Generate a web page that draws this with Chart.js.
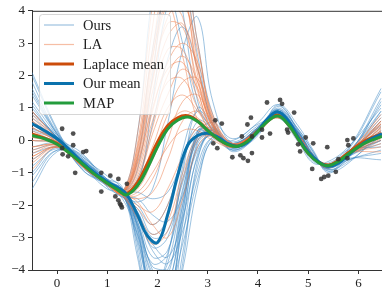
<!DOCTYPE html>
<html>
<head>
<meta charset="utf-8">
<script src="https://cdn.jsdelivr.net/npm/chart.js@4.4.1/dist/chart.umd.min.js"></script>
<style>
  html, body { margin: 0; padding: 0; background: #fff; }
  #wrap { width: 382px; height: 293px; }
</style>
</head>
<body>
<div id="wrap"><canvas id="chart"></canvas></div>
<script>
// x positions shared by the sample curves
const sampleX = [-0.5, 0, 0.5, 1, 1.3, 1.6, 1.9, 2.2, 2.5, 2.8, 3.1, 3.5, 4, 4.4, 4.8, 5.1, 5.4, 5.8, 6.45];

// "Ours" posterior samples
const oursSamples = [
  [0.9, 0.1, -0.6, -1.2, -1.55, -2.6, -4.2, -4.5, -2.0, 0.3, 0.35, -0.1, 0.4, 0.9, 0.25, -0.45, -0.8, -0.4, 0.5],
  [1.6, 0.2, -0.8, -1.4, -1.7, -2.8, -4.8, -5.0, -2.5, -0.1, 0.2, -0.2, 0.3, 0.85, 0.2, -0.5, -0.85, -0.5, 0.1],
  [-0.4, -0.2, -0.5, -1.2, -1.6, -2.2, -3.3, -3.0, -1.2, 0.2, 0.3, -0.15, 0.35, 0.9, 0.15, -0.55, -0.8, -0.35, 0.9],
  [0.4, 0.0, -0.7, -1.35, -1.65, -2.0, -2.6, -2.0, -0.5, 0.4, 0.25, -0.2, 0.4, 0.95, 0.2, -0.5, -0.85, -0.6, -0.3],
  [2.0, 0.3, -0.9, -1.3, -1.5, -3.2, -5.5, -5.8, -3.5, -0.8, 0.1, -0.2, 0.3, 0.8, 0.25, -0.45, -0.75, -0.3, 1.5],
  [-1.3, -0.3, -0.6, -1.25, -1.7, -2.4, -3.6, -3.4, -1.5, 0.0, 0.2, -0.1, 0.35, 0.9, 0.15, -0.5, -0.8, -0.45, 0.2],
  [0.7, 0.1, -0.7, -1.3, -1.55, -1.2, 0.5, 2.5, 3.5, 2.2, 0.6, -0.25, 0.3, 0.85, 0.2, -0.5, -0.8, -0.4, 0.3],
  [1.2, 0.15, -0.75, -1.3, -1.6, -0.9, 2.0, 5.0, 5.5, 3.0, 0.8, -0.2, 0.35, 0.9, 0.2, -0.5, -0.85, -0.45, 0.6],
  [0.2, -0.05, -0.65, -1.35, -1.6, -2.5, -3.9, -4.0, -2.0, -0.2, 0.15, -0.2, 0.3, 0.85, 0.25, -0.45, -0.8, -0.5, 0.0],
  [-0.8, -0.25, -0.55, -1.3, -1.65, -3.0, -5.0, -5.5, -3.0, -0.4, 0.2, -0.15, 0.4, 0.9, 0.2, -0.5, -0.85, -0.4, 1.1],
  [0.6, 0.05, -0.8, -1.4, -1.5, -2.2, -3.0, -2.8, -1.3, 0.1, 0.3, -0.1, 0.35, 0.8, 0.15, -0.55, -0.8, -0.55, -0.6],
  [1.4, 0.2, -0.6, -1.25, -1.6, -2.7, -4.4, -4.8, -2.6, 0.0, 0.25, -0.2, 0.3, 0.9, 0.2, -0.5, -0.8, -0.35, 0.8],
  [0.0, -0.1, -0.7, -1.3, -1.6, -1.6, -1.8, -1.6, -0.6, 0.3, 0.3, -0.15, 0.35, 0.85, 0.25, -0.45, -0.85, -0.5, 0.4],
  [-1.0, -0.2, -0.6, -1.35, -1.7, -2.6, -3.8, -3.5, -1.0, 1.0, 0.5, -0.2, 0.3, 0.9, 0.2, -0.5, -0.8, -0.4, 0.25],
  [0.5, 0.0, -0.75, -1.3, -1.6, -0.6, 2.8, 4.5, 3.0, 1.0, 0.4, -0.15, 0.35, 0.9, 0.15, -0.5, -0.8, -0.45, 1.3],
  [1.0, 0.1, -0.7, -1.3, -1.55, -2.9, -4.6, -4.2, -1.8, 0.1, 0.3, -0.2, 0.35, 0.85, 0.2, -0.5, -0.85, -0.4, 0.0],
  [-0.2, -0.1, -0.65, -1.3, -1.65, -2.3, -3.4, -3.8, -2.8, -1.0, 0.1, -0.15, 0.3, 0.9, 0.25, -0.5, -0.8, -0.5, 0.6],
  [0.3, 0.0, -0.7, -1.3, -1.6, -1.9, -1.5, 0.5, 2.8, 3.8, 1.2, -0.1, 0.35, 0.85, 0.2, -0.5, -0.85, -0.4, 0.2],
  [1.8, 0.25, -0.5, -1.1, -1.5, -2.5, -4.0, -4.6, -3.2, -1.2, 0.0, -0.3, 0.15, 1.1, 0.45, -0.3, -0.95, -0.7, 0.3],
  [-1.5, -0.35, -0.45, -1.45, -1.8, -2.9, -4.4, -3.8, -1.6, 0.2, 0.55, 0.05, 0.5, 0.7, -0.05, -0.7, -0.65, -0.2, 1.0],
  [0.8, 0.15, -0.85, -1.2, -1.45, -3.4, -6.0, -6.2, -3.8, -0.6, 0.35, -0.35, 0.2, 1.05, 0.35, -0.35, -1.0, -0.6, -0.4],
  [1.1, 0.1, -0.4, -1.3, -1.75, -2.1, -2.9, -2.4, -0.3, 0.9, 0.45, -0.3, 0.25, 0.75, 0.0, -0.65, -0.7, -0.25, 1.6],
  [-0.6, -0.2, -0.8, -1.5, -1.6, -2.6, -4.1, -4.4, -2.2, 0.3, 0.15, 0.0, 0.55, 1.1, 0.3, -0.4, -0.9, -0.65, 0.15],
  [0.35, 0.05, -0.6, -1.2, -1.6, -1.4, 1.2, 4.2, 4.8, 2.6, 0.5, -0.3, 0.2, 0.95, 0.35, -0.35, -0.95, -0.45, 0.7],
  [1.5, 0.2, -0.7, -1.25, -1.55, -3.6, -5.8, -5.2, -2.3, 0.2, 0.4, -0.05, 0.45, 0.8, 0.05, -0.6, -0.75, -0.3, -0.2],
  [-1.1, -0.3, -0.65, -1.4, -1.75, -1.8, -2.3, -2.5, -1.7, -0.3, 0.2, -0.25, 0.25, 1.0, 0.3, -0.45, -0.9, -0.55, 0.9],
  [0.1, -0.05, -0.75, -1.3, -1.6, -3.1, -4.6, -3.6, -0.8, 0.6, 0.35, -0.15, 0.4, 0.85, 0.1, -0.55, -0.85, -0.35, 0.45],
  [0.9, 0.1, -0.55, -1.35, -1.7, -2.4, -3.2, -3.6, -2.4, -0.5, 0.25, -0.2, 0.35, 0.95, 0.25, -0.45, -0.8, -0.5, 1.2],
  [-0.3, -0.15, -0.7, -1.25, -1.6, 0.2, 4.5, 6.5, 4.0, 1.2, 0.3, -0.2, 0.3, 0.85, 0.2, -0.5, -0.8, -0.4, 0.0],
  [2.1, 0.35, -0.9, -1.35, -1.55, -2.7, -5.2, -6.0, -4.0, -1.4, 0.05, -0.1, 0.35, 0.9, 0.2, -0.5, -0.85, -0.45, -0.1]
];

// "LA" (Laplace) samples
const laSamples = [
  [0.3, -0.1, -0.75, -1.35, -1.65, -1.0, 0.6, 1.8, 1.9, 1.0, 0.2, -0.2, 0.3, 0.75, 0.15, -0.5, -0.8, -0.4, 0.2],
  [0.8, 0.0, -0.8, -1.3, -1.6, -0.6, 1.8, 3.6, 3.5, 1.8, 0.4, -0.15, 0.3, 0.75, 0.1, -0.55, -0.8, -0.35, 0.5],
  [-0.5, -0.2, -0.7, -1.35, -1.7, -1.6, -1.0, -0.2, 0.3, 0.3, 0.0, -0.2, 0.3, 0.75, 0.15, -0.5, -0.75, -0.4, 0.0],
  [0.1, -0.1, -0.75, -1.3, -1.65, -0.3, 2.8, 5.0, 4.6, 2.2, 0.5, -0.2, 0.3, 0.7, 0.15, -0.5, -0.8, -0.45, 0.3],
  [-0.9, -0.2, -0.7, -1.4, -1.7, -2.0, -2.2, -1.5, -0.5, 0.2, 0.1, -0.15, 0.3, 0.75, 0.1, -0.5, -0.8, -0.4, 0.6],
  [0.6, 0.0, -0.8, -1.35, -1.6, -1.3, -0.2, 1.0, 1.4, 0.9, 0.2, -0.2, 0.25, 0.75, 0.15, -0.55, -0.8, -0.35, 0.1],
  [0.9, 0.05, -0.75, -1.3, -1.6, -0.8, 1.2, 2.8, 2.8, 1.5, 0.3, -0.2, 0.3, 0.8, 0.15, -0.5, -0.8, -0.4, -0.2],
  [-0.3, -0.15, -0.75, -1.35, -1.7, -2.3, -2.9, -2.5, -1.0, 0.1, 0.15, -0.15, 0.3, 0.75, 0.1, -0.5, -0.75, -0.45, 0.4],
  [0.4, -0.05, -0.7, -1.3, -1.6, -0.1, 3.5, 6.0, 5.0, 2.0, 0.4, -0.2, 0.3, 0.75, 0.15, -0.5, -0.8, -0.4, 0.25],
  [0.0, -0.1, -0.8, -1.35, -1.65, -1.2, 0.2, 1.4, 2.2, 1.6, 0.5, -0.15, 0.3, 0.7, 0.15, -0.5, -0.8, -0.35, 0.7],
  [-0.6, -0.2, -0.7, -1.3, -1.65, -1.8, -1.6, -0.6, 0.6, 0.9, 0.3, -0.2, 0.3, 0.75, 0.1, -0.55, -0.8, -0.4, 0.1],
  [0.5, 0.0, -0.75, -1.3, -1.6, -0.5, 2.2, 4.2, 3.8, 1.6, 0.3, -0.2, 0.3, 0.75, 0.15, -0.5, -0.8, -0.4, 0.35],
  [0.2, -0.1, -0.75, -1.35, -1.65, -1.5, -0.6, 0.4, 0.9, 0.7, 0.2, -0.2, 0.3, 0.75, 0.15, -0.5, -0.8, -0.4, -0.1],
  [-0.2, -0.15, -0.7, -1.3, -1.65, -0.9, 0.9, 2.4, 3.0, 2.4, 0.8, -0.1, 0.3, 0.75, 0.1, -0.5, -0.8, -0.4, 0.5],
  [0.7, 0.0, -0.8, -1.35, -1.6, -0.4, 2.5, 4.8, 5.2, 3.0, 0.6, -0.2, 0.3, 0.75, 0.15, -0.5, -0.8, -0.35, 0.2],
  [-0.4, -0.15, -0.75, -1.35, -1.7, -2.1, -2.6, -2.0, -0.6, 0.4, 0.3, -0.15, 0.3, 0.75, 0.15, -0.5, -0.8, -0.45, 0.15],
  [0.5, -0.05, -0.7, -1.3, -1.65, -0.7, 1.5, 3.2, 3.6, 2.2, 0.6, -0.1, 0.35, 0.8, 0.2, -0.45, -0.75, -0.35, 0.45],
  [-0.7, -0.2, -0.8, -1.35, -1.65, -1.9, -2.6, -3.0, -1.8, -0.2, 0.2, -0.2, 0.25, 0.7, 0.1, -0.55, -0.85, -0.45, 0.3],
  [0.2, -0.1, -0.75, -1.3, -1.6, -0.2, 2.6, 4.2, 2.6, 0.6, 0.1, -0.2, 0.3, 0.75, 0.15, -0.5, -0.8, -0.4, 0.55],
  [0.6, 0.0, -0.7, -1.35, -1.65, -1.1, 0.4, 2.0, 2.6, 1.8, 0.45, -0.15, 0.3, 0.75, 0.15, -0.5, -0.8, -0.4, -0.35],
  [-0.2, -0.15, -0.75, -1.3, -1.65, -1.7, -1.2, 0.0, 1.2, 1.4, 0.5, -0.15, 0.3, 0.75, 0.1, -0.5, -0.8, -0.4, 0.8],
  [0.9, 0.05, -0.8, -1.35, -1.6, 0.2, 4.2, 7.0, 5.5, 2.4, 0.5, -0.2, 0.3, 0.75, 0.15, -0.5, -0.8, -0.35, 0.1],
  [0.0, -0.1, -0.7, -1.3, -1.65, -1.3, -0.4, 0.8, 1.8, 1.9, 0.7, -0.1, 0.3, 0.75, 0.15, -0.5, -0.8, -0.4, 0.4],
  [-0.5, -0.2, -0.75, -1.35, -1.7, -2.4, -3.2, -2.8, -1.2, 0.0, 0.2, -0.15, 0.3, 0.7, 0.1, -0.5, -0.8, -0.45, 0.05],
  [0.4, -0.05, -0.75, -1.3, -1.6, -0.7, 1.0, 2.2, 2.4, 1.3, 0.3, -0.2, 0.3, 0.75, 0.15, -0.5, -0.8, -0.4, 0.6],
  [0.1, -0.1, -0.7, -1.35, -1.65, -0.5, 1.9, 3.8, 4.2, 2.8, 0.7, -0.1, 0.3, 0.8, 0.15, -0.5, -0.8, -0.4, 0.25]
];

// x positions for the three mean curves
const meanX = [-0.5, -0.25, 0, 0.25, 0.5, 0.75, 1, 1.2, 1.38, 1.6, 1.8, 2.0, 2.2, 2.4, 2.6, 2.8, 3.0, 3.2, 3.4, 3.6, 3.8, 4.0, 4.2, 4.4, 4.6, 4.8, 5.0, 5.2, 5.4, 5.6, 5.8, 6.0, 6.2, 6.47];
const laplaceMean = [0.2, 0.07, -0.1, -0.4, -0.72, -1.05, -1.32, -1.5, -1.65, -1.3, -0.7, -0.05, 0.45, 0.7, 0.76, 0.6, 0.3, 0.05, -0.12, -0.17, 0.0, 0.3, 0.62, 0.78, 0.5, 0.05, -0.4, -0.66, -0.76, -0.62, -0.38, -0.14, 0.04, 0.2];
const ourMean = [0.52, 0.3, 0.05, -0.3, -0.68, -1.0, -1.28, -1.45, -1.65, -2.3, -2.95, -3.15, -2.3, -1.1, -0.15, 0.15, 0.22, 0.1, -0.1, -0.18, -0.05, 0.3, 0.68, 0.88, 0.6, 0.1, -0.35, -0.65, -0.8, -0.7, -0.45, -0.2, 0.0, 0.2];
const mapFit = [0.15, 0.05, -0.12, -0.4, -0.72, -1.05, -1.32, -1.52, -1.68, -1.4, -0.85, -0.2, 0.35, 0.62, 0.72, 0.58, 0.3, 0.05, -0.13, -0.18, -0.02, 0.28, 0.6, 0.75, 0.5, 0.05, -0.4, -0.68, -0.78, -0.65, -0.42, -0.2, -0.03, 0.12];

// observed data
const obsX = [0.10, 0.32, 0.32, 0.10, 0.11, 0.22, 0.52, 0.58, 0.36, 0.88, 1.06, 1.22, 1.39, 0.88, 1.16, 1.22, 1.25, 1.29, 1.27,
  3.11, 3.15, 3.19, 3.28, 3.49, 3.65, 3.68, 3.71, 3.80, 3.79, 3.86, 3.88, 3.88, 4.08, 4.08, 4.18, 4.24, 4.44, 4.48, 4.58, 4.60,
  4.72, 4.80, 4.84, 4.95, 5.08, 5.10, 5.26, 5.32, 5.38, 5.40, 5.55, 5.60, 5.78, 5.78, 5.80, 5.90];
const obsY = [0.36, 0.21, -0.15, -0.24, -0.43, -0.49, -0.36, -0.33, -1.0, -1.0, -1.09, -1.19, -1.34, -1.58, -1.73, -1.85, -1.95, -2.07, -2.0,
  -0.09, 0.62, -0.24, 0.52, -0.52, -0.46, 0.12, -0.55, -0.63, 0.49, 0.7, -0.39, 0.12, 0.33, 0.09, 1.17, 0.21, 1.25, 1.13, 0.33, 0.24,
  0.86, -0.12, -0.34, 0.09, -0.88, -0.09, -1.19, -1.13, -0.21, -1.09, -0.97, -0.58, 0.01, -0.55, -0.15, 0.06];

const xTicks = [0, 1, 2, 3, 4, 5, 6];
const legendNames = ['Ours', 'LA', 'Laplace mean', 'Our mean', 'MAP'];

const oursColor = 'rgba(60,135,195,0.5)';
const laColor = 'rgba(238,125,75,0.5)';
const laplaceColor = '#cc4c0a';
const ourMeanColor = '#0a72ad';
const mapColor = '#239c3c';
const legendColors = [oursColor, laColor, laplaceColor, ourMeanColor, mapColor];
const legendWidths = [1.2, 1.2, 3, 3, 3];

function toPoints(xs, ys) {
  return xs.map((x, i) => ({ x: x, y: ys[i] }));
}

const datasets = [];
oursSamples.forEach(s => {
  datasets.push({ data: toPoints(sampleX, s), borderColor: oursColor, borderWidth: 1, tension: 0.4, pointRadius: 0, order: 6, clip: 0 });
});
laSamples.forEach(s => {
  datasets.push({ data: toPoints(sampleX, s), borderColor: laColor, borderWidth: 1, tension: 0.4, pointRadius: 0, order: 5, clip: 0 });
});
datasets.push({ data: toPoints(meanX, laplaceMean), borderColor: laplaceColor, borderWidth: 3, tension: 0.4, pointRadius: 0, order: 4, clip: 0 });
datasets.push({ data: toPoints(meanX, ourMean), borderColor: ourMeanColor, borderWidth: 3, tension: 0.4, pointRadius: 0, order: 3, clip: 0 });
datasets.push({ data: toPoints(meanX, mapFit), borderColor: mapColor, borderWidth: 3, tension: 0.4, pointRadius: 0, order: 2, clip: 0 });
datasets.push({ type: 'scatter', data: toPoints(obsX, obsY), showLine: false, pointRadius: 2.4, pointBorderWidth: 0,
  pointBackgroundColor: 'rgba(50,50,50,0.85)', order: 1 });

// legend inside the plot + top spine
const insideLegend = {
  id: 'insideLegend',
  afterDraw(chart) {
    const ctx = chart.ctx;
    const a = chart.chartArea;
    ctx.save();
    ctx.strokeStyle = '#333';
    ctx.lineWidth = 1;
    ctx.beginPath();
    ctx.moveTo(a.left, a.top + 0.5);
    ctx.lineTo(a.right, a.top + 0.5);
    ctx.stroke();

    const bx = 39.5, by = 14.5, bw = 131, bh = 100, r = 3;
    ctx.beginPath();
    ctx.moveTo(bx + r, by);
    ctx.arcTo(bx + bw, by, bx + bw, by + bh, r);
    ctx.arcTo(bx + bw, by + bh, bx, by + bh, r);
    ctx.arcTo(bx, by + bh, bx, by, r);
    ctx.arcTo(bx, by, bx + bw, by, r);
    ctx.closePath();
    ctx.fillStyle = 'rgba(255,255,255,0.8)';
    ctx.fill();
    ctx.strokeStyle = 'rgba(204,204,204,0.8)';
    ctx.stroke();

    ctx.font = '14.5px "Liberation Serif", serif';
    ctx.textBaseline = 'middle';
    legendNames.forEach((name, i) => {
      const y = 25 + i * 19.5;
      ctx.strokeStyle = legendColors[i];
      ctx.lineWidth = legendWidths[i];
      ctx.beginPath();
      ctx.moveTo(44, y);
      ctx.lineTo(74, y);
      ctx.stroke();
      ctx.fillStyle = '#222';
      ctx.fillText(name, 83, y + 1);
    });
    ctx.restore();
  }
};

const minusFmt = v => (v < 0 ? '\u2212' + Math.abs(v) : '' + v);

new Chart(document.getElementById('chart'), {
  type: 'line',
  data: { datasets: datasets },
  options: {
    responsive: true,
    maintainAspectRatio: false,
    animation: false,
    events: [],
    layout: { padding: { top: 7, right: 0, left: 0, bottom: 0 }, autoPadding: false },
    plugins: { legend: { display: false }, tooltip: { enabled: false } },
    scales: {
      x: {
        type: 'linear',
        min: -0.5,
        max: 6.47,
        afterBuildTicks: s => { s.ticks = xTicks.map(v => ({ value: v })); },
        afterFit: s => { s.height = 23; },
        grid: { drawOnChartArea: false, drawTicks: true, tickLength: 4, tickColor: '#333' },
        border: { display: true, color: '#333', width: 1 },
        ticks: { color: '#222', padding: 2, maxRotation: 0, font: { family: '"Liberation Serif", serif', size: 13 }, callback: minusFmt }
      },
      y: {
        min: -4,
        max: 4,
        afterFit: s => { s.width = 32; },
        grid: { drawOnChartArea: false, drawTicks: true, tickLength: 4, tickColor: '#333' },
        border: { display: true, color: '#333', width: 1 },
        ticks: { stepSize: 1, color: '#222', padding: 3, font: { family: '"Liberation Serif", serif', size: 13 }, callback: minusFmt }
      }
    }
  },
  plugins: [insideLegend]
});
</script>
</body>
</html>
